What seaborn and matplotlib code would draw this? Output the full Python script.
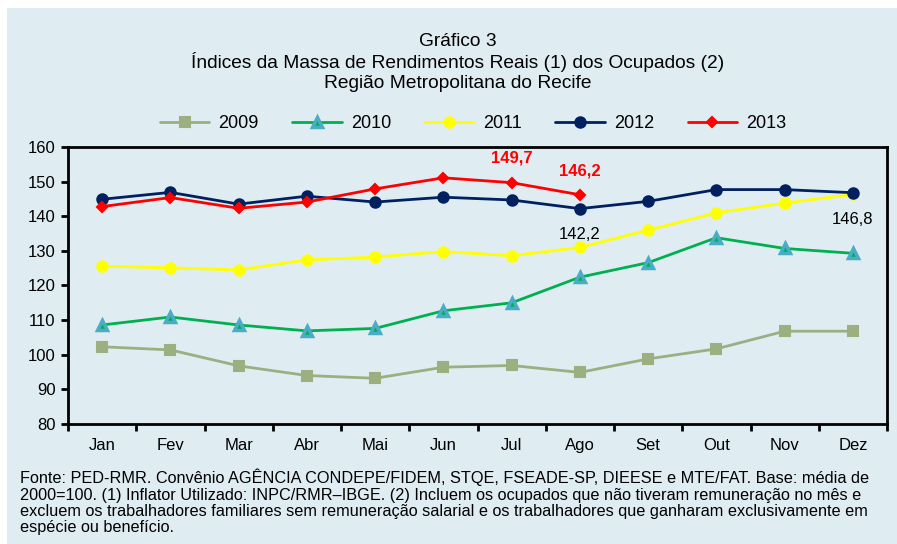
import numpy as np
import pandas as pd
import seaborn as sns
import matplotlib.pyplot as plt

months = ["Jan", "Fev", "Mar", "Abr", "Mai", "Jun", "Jul", "Ago", "Set", "Out", "Nov", "Dez"]

y2009 = [102.3, 101.4, 96.8, 94.0, 93.2, 96.4, 96.9, 94.9, 98.8, 101.7, 106.8, 106.8]
y2010 = [108.6, 110.9, 108.6, 106.9, 107.6, 112.7, 115.0, 122.4, 126.6, 133.8, 130.7, 129.3]
y2011 = [125.6, 125.1, 124.5, 127.4, 128.2, 129.8, 128.6, 131.0, 136.0, 141.0, 143.8, 146.3]
y2012 = [144.9, 146.9, 143.5, 145.8, 144.1, 145.5, 144.7, 142.2, 144.3, 147.7, 147.7, 146.8]
y2013 = [142.8, 145.4, 142.3, 144.1, 147.9, 151.1, 149.7, 146.2]

series = {"2009": y2009, "2010": y2010, "2011": y2011, "2012": y2012, "2013": y2013}

# line colour, marker, marker face, marker edge, marker size, edge width
styles = {
    "2009": ("#9BAF80", "s", "#9BAF80", "#9BAF80", 7, 1.5),
    "2010": ("#00B050", "^", "#00B050", "#4BACC6", 6.5, 2.5),
    "2011": ("#FFFF00", "o", "#FFFF00", "#FFFF00", 7.5, 1.5),
    "2012": ("#002060", "o", "#002060", "#002060", 7.5, 1.5),
    "2013": ("#FF0000", "D", "#FF0000", "#FF0000", 5, 1.5),
}

bg = "#DFEDF3"

sns.set_style("white")
plt.rcParams["font.family"] = ["Liberation Sans", "DejaVu Sans"]
plt.rcParams["text.color"] = "black"
plt.rcParams["xtick.color"] = "black"
plt.rcParams["ytick.color"] = "black"

fig = plt.figure(figsize=(8.97, 5.44), dpi=100)
# light blue panel
fig.patches.append(plt.Rectangle((7 / 897, 0), 1, 1 - 8 / 544, transform=fig.transFigure,
                                 facecolor=bg, edgecolor="none", zorder=-10))

ax = fig.add_axes([68 / 897, 1 - 424 / 544, (887 - 68) / 897, (424 - 147) / 544])
ax.set_facecolor(bg)

for name, vals in series.items():
    c, m, fc, ec, ms, mew = styles[name]
    sns.lineplot(x=np.arange(len(vals)), y=vals, color=c, linewidth=2, marker=m,
                 markersize=ms, markerfacecolor=fc, markeredgecolor=ec, markeredgewidth=mew,
                 label=name, ax=ax)

ax.set_xlim(-0.5, 11.5)
ax.set_ylim(80, 160)
ax.set_yticks(range(80, 161, 10))
ax.set_xticks(np.arange(12))
ax.set_xticklabels(months)
ax.set_xticks(np.arange(-0.5, 12, 1), minor=True)
ax.tick_params(axis="x", which="major", length=0, pad=10, labelsize=12)
ax.tick_params(axis="x", which="minor", length=5, width=2, direction="out", bottom=True)
ax.tick_params(axis="y", length=5, width=2, direction="out", left=True, labelsize=12, pad=4)
for s in ax.spines.values():
    s.set_color("black")
    s.set_linewidth(2)
ax.set_xlabel("")
ax.set_ylabel("")

# value labels
ax.text(6, 156.8, "149,7", color="#FF0000", fontsize=12, fontweight="bold", ha="center", va="center")
ax.text(7, 153.1, "146,2", color="#FF0000", fontsize=12, fontweight="bold", ha="center", va="center")
ax.text(7, 134.6, "142,2", color="black", fontsize=12, ha="center", va="center")
ax.text(11, 139.2, "146,8", color="black", fontsize=12, ha="center", va="center")

handles, labels = ax.get_legend_handles_labels()
ax.legend(handles, labels, loc="center", bbox_to_anchor=(473 / 897, 1 - 124 / 544),
          bbox_transform=fig.transFigure, ncol=5, frameon=False, fontsize=13,
          handlelength=2.75, columnspacing=1.85, handletextpad=0.5)

fig.text(458 / 897, 1 - 41 / 544, "Gráfico 3", ha="center", va="center", fontsize=13.8)
fig.text(458 / 897, 1 - 62 / 544, "Índices da Massa de Rendimentos Reais (1) dos Ocupados (2)",
         ha="center", va="center", fontsize=13.8)
fig.text(458 / 897, 1 - 84 / 544, "Região Metropolitana do Recife", ha="center", va="center", fontsize=13.8)

note = ("Fonte: PED-RMR. Convênio AGÊNCIA CONDEPE/FIDEM, STQE, FSEADE-SP, DIEESE e MTE/FAT. Base: média de\n"
        "2000=100. (1) Inflator Utilizado: INPC/RMR–IBGE. (2) Incluem os ocupados que não tiveram remuneração no mês e\n"
        "excluem os trabalhadores familiares sem remuneração salarial e os trabalhadores que ganharam exclusivamente em\n"
        "espécie ou benefício.")
fig.text(20 / 897, 1 - 469 / 544, note, ha="left", va="top", fontsize=11.7, linespacing=1.1)

fig.savefig("out.png", dpi=100)
